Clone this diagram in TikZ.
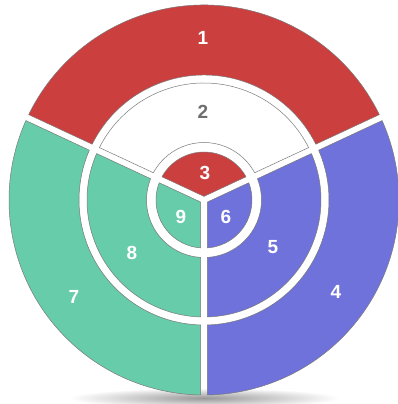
\documentclass[tikz,border=0pt]{standalone}
\usepackage{fontspec}
\setmainfont{Liberation Sans}
\definecolor{cred}{HTML}{CC3F3F}
\definecolor{cgreen}{HTML}{66CCA9}
\definecolor{cblue}{HTML}{6F72DB}
\definecolor{cline}{HTML}{7A7A7A}
\definecolor{ctxt}{HTML}{6E6E6E}
\newcommand\gapd{3.3}
% #1 start angle, #2 end angle, #3 inner radius, #4 outer radius, #5 style
\newcommand\ringpiece[5]{%
  \pgfmathsetmacro\aA{#1+asin(\gapd/#4)}%
  \pgfmathsetmacro\aB{#2-asin(\gapd/#4)}%
  \pgfmathsetmacro\aC{#2-asin(\gapd/#3)}%
  \pgfmathsetmacro\aD{#1+asin(\gapd/#3)}%
  \draw[#5] (\aA:#4pt) arc[start angle=\aA, end angle=\aB, radius=#4pt]
    -- (\aC:#3pt) arc[start angle=\aC, end angle=\aD, radius=#3pt] -- cycle;}
% #1 start angle, #2 end angle, #3 radius, #4 style
\newcommand\corepiece[4]{%
  \pgfmathsetmacro\aA{#1+asin(\gapd/#3)}%
  \pgfmathsetmacro\aB{#2-asin(\gapd/#3)}%
  \pgfmathsetmacro\aM{(#1+#2)/2}%
  \pgfmathsetmacro\aP{\gapd/sin((#2-#1)/2)}%
  \draw[#4] (\aM:\aP pt) -- (\aA:#3pt) arc[start angle=\aA, end angle=\aB, radius=#3pt] -- cycle;}
\begin{document}
\begin{tikzpicture}[x=1pt,y=1pt,
  piece/.style={draw=cline, line width=0.5pt, line join=round},
  lab/.style={font=\fontsize{19}{19}\selectfont\bfseries, text=white}]
\useasboundingbox (0,-404) rectangle (398,0);
\fill[white] (0,-404) rectangle (398,0);
\shade[inner color=black!40, outer color=white] (204,-398) ellipse [x radius=135, y radius=10];
\begin{scope}[shift={(204,-200)}]
  % outer ring
  \ringpiece{25}{155}{125}{195}{piece,fill=cred}
  \ringpiece{155}{270}{125}{195}{piece,fill=cgreen}
  \ringpiece{-90}{25}{125}{195}{piece,fill=cblue}
  % middle ring
  \ringpiece{25}{155}{57.5}{117}{piece,fill=white}
  \ringpiece{155}{270}{57.5}{117}{piece,fill=cgreen}
  \ringpiece{-90}{25}{57.5}{117}{piece,fill=cblue}
  % core
  \corepiece{25}{155}{48}{piece,fill=cred}
  \corepiece{155}{270}{48}{piece,fill=cgreen}
  \corepiece{-90}{25}{48}{piece,fill=cblue}
\end{scope}
\node[lab] (l1) at (203,-38) {1};
\node[lab, text=ctxt] (l2) at (203,-112) {2};
\node[lab] (l3) at (205,-173) {3};
\node[lab] (l4) at (336,-292) {4};
\node[lab] (l5) at (273,-247) {5};
\node[lab] (l6) at (226,-217) {6};
\node[lab] (l7) at (74,-297) {7};
\node[lab] (l8) at (132,-253) {8};
\node[lab] (l9) at (181,-217) {9};
\end{tikzpicture}
\end{document}
